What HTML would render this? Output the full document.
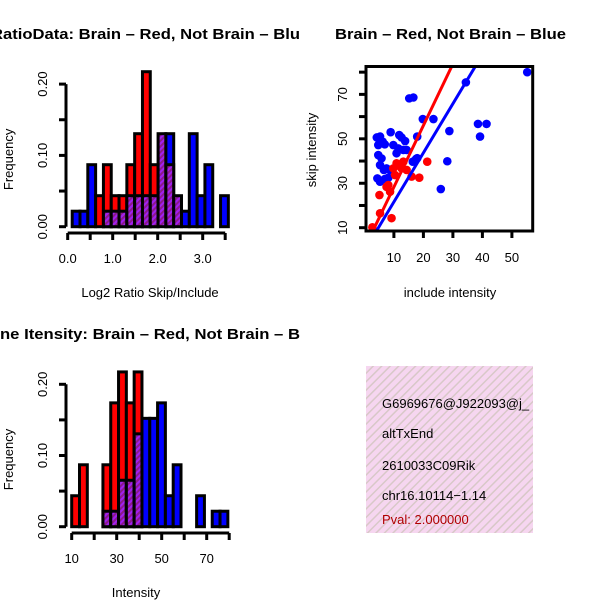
<!DOCTYPE html>
<html><head><meta charset="utf-8"><style>
html,body{margin:0;padding:0;background:#fff;}
svg{display:block;font-family:"Liberation Sans",Arial,sans-serif;}
</style></head><body>
<svg id="c" width="600" height="600" viewBox="0 0 600 600" xmlns="http://www.w3.org/2000/svg">
<defs>
<pattern id="hatch" width="4" height="4" patternUnits="userSpaceOnUse" patternTransform="rotate(45)">
<rect width="4" height="4" fill="#a020f0"/><rect width="2" height="4" fill="#8b1a8b"/>
</pattern>
<pattern id="pink" width="6" height="6" patternUnits="userSpaceOnUse" patternTransform="rotate(45)">
<rect width="6" height="6" fill="#f6d6f0"/><rect width="1.5" height="6" fill="#d8c8c8"/>
</pattern>
<clipPath id="clipTop"><rect x="0" y="0" width="300" height="300"/></clipPath>
<clipPath id="clipBot"><rect x="0" y="300" width="300" height="300"/></clipPath>
<clipPath id="clipSc"><rect x="366" y="66" width="167" height="166"/></clipPath>
<clipPath id="clipBox"><rect x="366" y="366" width="167" height="167"/></clipPath>
</defs>
<g id="root"></g>
</svg>
<script>
// ---- Ratio histogram data (counts out of 46) ----
const ratioStart = 0.1;
const ratioBinWidth = 0.1735;
const ratioRed  = [0,0,0,2,4,2,2,4,6,10,4,6,4,2,0,0,0,0,0,0];
const ratioBlue = [1,1,4,0,1,1,1,2,2,2,2,6,6,2,1,6,2,4,0,2];
const ratioXTicks = [0,0.5,1,1.5,2,2.5,3,3.5];
const ratioXLabels = ["0.0","1.0","2.0","3.0"];
const freqTicks = [0,0.05,0.1,0.15,0.2];
const freqLabels = ["0.00","0.10","0.20"];
const histTotal = 46;
// ---- Intensity histogram data ----
const intStart = 10;
const intBinWidth = 3.47;
const intRed  = [2,4,0,0,4,8,10,8,10,0,0,0,0,0,0,0,0,0,0,0];
const intBlue = [0,0,0,0,1,1,3,3,6,7,7,8,2,4,0,0,2,0,1,1];
const intXTicks = [10,20,30,40,50,60,70,80];
const intXLabels = ["10","30","50","70"];
// ---- Scatter data ----
const blueX = [55.2,34.4,15.2,16.6,19.8,23.4,38.5,41.4,39.2,28.8,17.9,25.9,28.1,17.9,4.2,5.3,6.2,4.7,6.9,8.9,9.8,11.8,12.6,13.8,13.2,10.9,4.7,5.8,5.3,6.6,7.5,8.7,4.4,5.3,6.9,8.1,16.4,17.5,14.3,11.5];
const blueY = [80,75.4,68.2,68.6,58.9,58.9,56.7,56.7,51,53.5,51,27.4,39.9,41.3,50.6,51,48.7,47.2,47.5,53,47.2,51.7,50.6,49,45,43.5,42.7,41.2,38.2,36,36.7,36,32.2,30.7,31.9,32.5,39.7,40.9,45,45.7];
const redX = [2.7,5.3,9.2,5.1,7.5,8.7,10.4,11.5,12.6,14.3,16,18.6,21.3,13.2,10.9,9.8,8.1];
const redY = [10.2,16.5,14.3,24.7,28.4,26.2,33.7,38.2,36.7,36,33,32.5,39.7,39.7,39,36.7,29.2];
const redFit = [0.6,2.77];
const blueFit = [-0.5,2.21];
const scXTicks = [10,20,30,40,50];
const scYTicks = [10,20,30,40,50,60,70,80];
const scYLabels = [10,30,50,70];

const NS = "http://www.w3.org/2000/svg";
const root = document.getElementById('root');
function el(tag, attrs, parent, text){
  const e = document.createElementNS(NS, tag);
  for (const k in attrs) e.setAttribute(k, attrs[k]);
  if (text !== undefined) e.textContent = text;
  (parent||root).appendChild(e);
  return e;
}

function histogram(g, opts){
  const sx = v => opts.x0 + (v - opts.xmin) * opts.kx;
  const sy = f => opts.y0 - f * opts.ky;
  const n = opts.red.length;
  for (let i = 0; i < n; i++){
    const a = opts.start + i*opts.bw, b = a + opts.bw;
    const x1 = sx(a), x2 = sx(b);
    const r = opts.red[i]/histTotal, bl = opts.blue[i]/histTotal;
    const hi = Math.max(r, bl), lo = Math.min(r, bl);
    if (hi > 0){
      const bar = el('rect', {x:x1, y:sy(hi), width:x2-x1, height:sy(0)-sy(hi), fill: r>bl ? '#ff0000' : (bl>r ? '#0000ff' : 'url(#hatch)'), stroke:'#000', 'stroke-width':3}, g);
      
      
    }
    if (lo > 0 && r !== bl){
      const ov = el('rect', {x:x1, y:sy(lo), width:x2-x1, height:sy(0)-sy(lo), fill:'url(#hatch)', stroke:'#000', 'stroke-width':3}, g);
      
      
    }
  }
  // y axis
  const ya = el('g', {}, g);
  
  
  el('line', {x1:opts.yax, y1:sy(0), x2:opts.yax, y2:sy(0.2), stroke:'#000','stroke-width':3}, ya);
  freqTicks.forEach(t => el('line', {x1:opts.yax-7, y1:sy(t), x2:opts.yax, y2:sy(t), stroke:'#000','stroke-width':3}, ya));
  freqLabels.forEach(l => {
    const y = sy(parseFloat(l));
    el('text', {x:0, y:0, transform:`translate(47,${y}) rotate(-90)`, 'text-anchor':'middle', 'font-size':13}, ya, l);
  });
  // x axis
  const xa = el('g', {}, g);
  
  
  const xt = opts.xticks;
  el('line', {x1:sx(xt[0]), y1:opts.xay, x2:sx(xt[xt.length-1]), y2:opts.xay, stroke:'#000','stroke-width':3}, xa);
  xt.forEach(t => el('line', {x1:sx(t), y1:opts.xay, x2:sx(t), y2:opts.xay+7, stroke:'#000','stroke-width':3}, xa));
  opts.xlabels.forEach(l => el('text', {x:sx(parseFloat(l)), y:opts.xay+30, 'text-anchor':'middle','font-size':13}, xa, l));
  const yl = el('text', {x:0, y:0, transform:`translate(13,${sy(0.1)+4}) rotate(-90)`, 'text-anchor':'middle','font-size':13}, g, 'Frequency');
  
  
  const xl = el('text', {x:opts.xlabX, y:opts.xay+64, 'text-anchor':'middle','font-size':13}, g, opts.xtitle);
  
  
  const tt = el('text', {x:opts.titleX, y:opts.titleY, 'font-size':15,'font-weight':'bold', textLength:opts.titleLen, lengthAdjust:'spacingAndGlyphs'}, g, opts.title);
  
  
}

const g1 = el('g', {'clip-path':'url(#clipTop)'});


histogram(g1, {x0:67.7, xmin:0, kx:45, y0:226.7, ky:713, start:ratioStart, bw:ratioBinWidth, red:ratioRed, blue:ratioBlue,
  yax:66, xay:233, xticks:ratioXTicks, xlabels:ratioXLabels, xtitle:'Log2 Ratio Skip/Include', xlabX:150,
  title:'RatioData: Brain – Red, Not Brain – Blu', titleX:-9, titleY:39, titleLen:309});

const g2 = el('g', {'clip-path':'url(#clipBot)'});


histogram(g2, {x0:71.7, xmin:10, kx:2.25, y0:526.7, ky:712, start:intStart, bw:intBinWidth, red:intRed, blue:intBlue,
  yax:66, xay:533, xticks:intXTicks, xlabels:intXLabels, xtitle:'Intensity', xlabX:136,
  title:'ne Itensity: Brain – Red, Not Brain – B', titleX:0, titleY:339, titleLen:300});

// ---- Scatter ----
const gs = el('g', {});


const px = v => 364.4 + v*2.95;
const py = v => 227.7 - (v-10)*2.222;
const pts = el('g', {'clip-path':'url(#clipSc)'}, gs);
blueX.forEach((x,i) => {
  const c = el('circle', {cx:px(x), cy:py(blueY[i]), r:4.3, fill:'#0000ff'}, pts);
  
  
});
redX.forEach((x,i) => {
  const c = el('circle', {cx:px(x), cy:py(redY[i]), r:4.3, fill:'#ff0000'}, pts);
  
  
});
[[redFit,'#ff0000','red-fit-line'],[blueFit,'#0000ff','blue-fit-line']].forEach(([f,col,name]) => {
  const l = el('line', {x1:px(0), y1:py(f[0]), x2:px(60), y2:py(f[0]+f[1]*60), stroke:col,'stroke-width':3}, pts);
  
  
});
const fr = el('rect', {x:366, y:66.5, width:166.7, height:164.5, fill:'none', stroke:'#000','stroke-width':3}, gs);


const sxa = el('g', {}, gs);


scXTicks.forEach(t => {
  el('line', {x1:px(t), y1:231, x2:px(t), y2:238, stroke:'#000','stroke-width':3}, sxa);
  el('text', {x:px(t), y:262, 'text-anchor':'middle','font-size':13}, sxa, String(t));
});
const sya = el('g', {}, gs);


scYTicks.forEach(t => el('line', {x1:359, y1:py(t), x2:366, y2:py(t), stroke:'#000','stroke-width':3}, sya));
scYLabels.forEach(t => el('text', {x:0, y:0, transform:`translate(347,${py(t)}) rotate(-90)`, 'text-anchor':'middle','font-size':13}, sya, String(t)));
const sxl = el('text', {x:450, y:297, 'text-anchor':'middle','font-size':13}, gs, 'include intensity');


const syl = el('text', {x:0, y:0, transform:'translate(316,150) rotate(-90)', 'text-anchor':'middle','font-size':13}, gs, 'skip intensity');


const st = el('text', {x:335, y:39, 'font-size':15,'font-weight':'bold', textLength:231, lengthAdjust:'spacingAndGlyphs'}, gs, 'Brain – Red, Not Brain – Blue');



// ---- Info box ----
const gb = el('g', {'clip-path':'url(#clipBox)'});


el('rect', {x:366, y:366, width:167, height:167, fill:'url(#pink)'}, gb);
const lines = [['G6969676@J922093@j_','#000',408,'event-id'],['altTxEnd','#000',438,'event-type'],['2610033C09Rik','#000',470,'gene-name'],['chr16.10114−1.14','#000',500,'location'],['Pval: 2.000000','#b00000',524,'p-value']];
lines.forEach(([t,c,y,n]) => {
  const tx = el('text', {x:382, y:y, 'font-size':13, fill:c}, gb, t);
  
  
});
</script>
</body></html>
